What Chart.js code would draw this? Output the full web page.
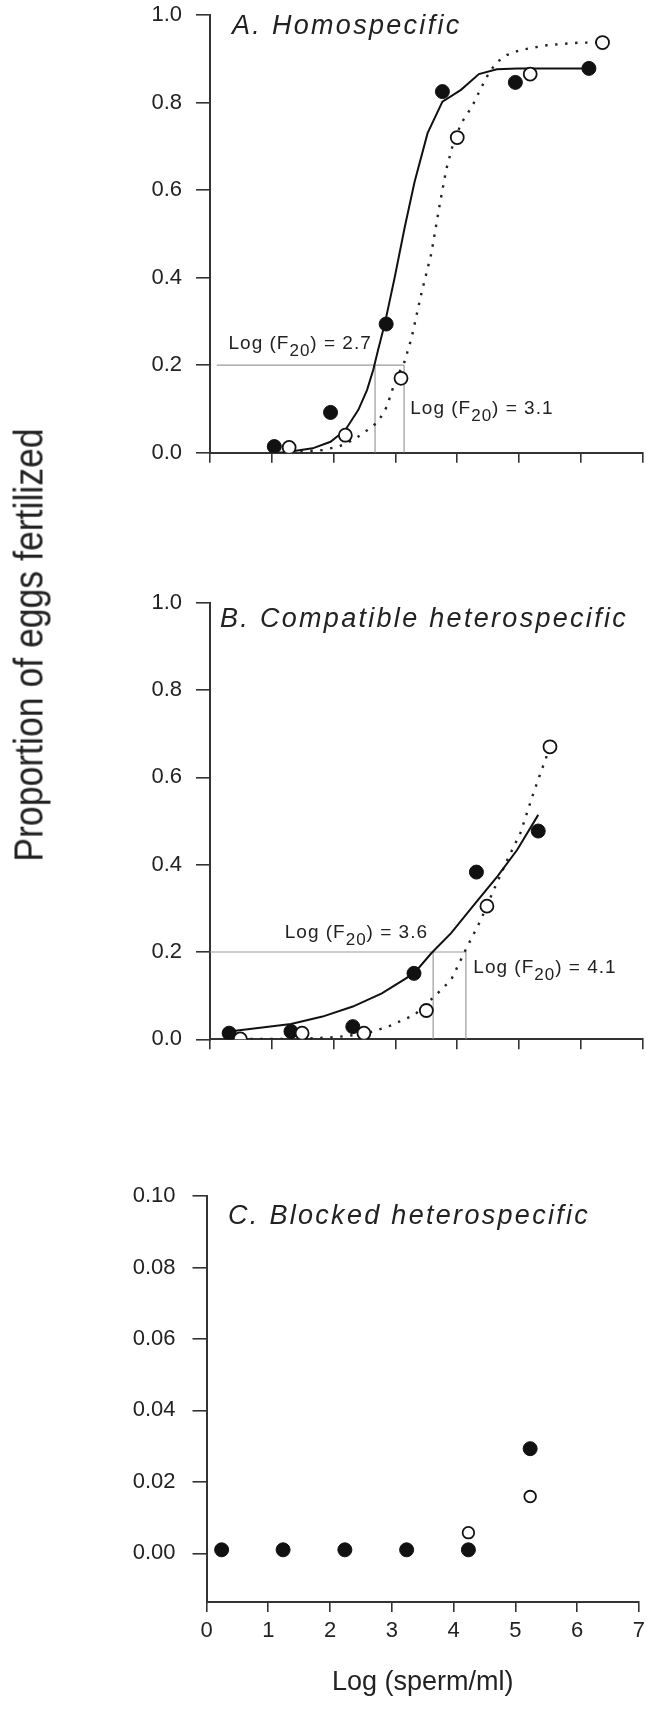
<!DOCTYPE html>
<html>
<head>
<meta charset="utf-8">
<script src="https://cdn.jsdelivr.net/npm/chart.js@4"></script>
<style>
  body { margin: 0; background: #fff; }
  #page { position: relative; width: 651px; height: 1735px; overflow: hidden; }
  canvas { position: absolute; left: 0; }
  #ytitle {
    position: absolute; left: 29px; top: 645px;
    transform: translate(-50%, -50%) rotate(-90deg) scaleX(0.89);
    font: 40px "Liberation Sans", Arial, sans-serif; color: #222; white-space: nowrap;
  }
</style>
</head>
<body>
<div id="page">
  <canvas id="panelA" width="651" height="520" style="top:-20px"></canvas>
  <canvas id="panelB" width="651" height="500" style="top:570px"></canvas>
  <canvas id="panelC" width="651" height="585" style="top:1150px"></canvas>
  <div id="ytitle">Proportion of eggs fertilized</div>
</div>
<script>
const xTickValues = [0, 1, 2, 3, 4, 5, 6, 7];
const yTicksAB = [0, 0.2, 0.4, 0.6, 0.8, 1.0];
const yTicksC = [0, 0.02, 0.04, 0.06, 0.08, 0.10];

// A. Homospecific
const aFilledX = [1.04, 1.95, 2.85, 3.76, 4.94, 6.13];
const aFilledY = [0.014, 0.092, 0.294, 0.825, 0.846, 0.878];
const aOpenX = [1.28, 2.19, 3.09, 4.00, 5.18, 6.35];
const aOpenY = [0.012, 0.040, 0.170, 0.720, 0.865, 0.937];
const aSolidX = [1.12, 1.28, 1.66, 1.95, 2.19, 2.40, 2.54, 2.64, 2.72, 2.83, 2.99, 3.15, 3.31, 3.52, 3.76, 4.06, 4.35, 4.64, 4.97, 6.14];
const aSolidY = [0.000, 0.002, 0.010, 0.025, 0.052, 0.098, 0.143, 0.189, 0.235, 0.296, 0.402, 0.515, 0.619, 0.730, 0.802, 0.829, 0.865, 0.876, 0.878, 0.878];
const aDotX = [1.30, 1.82, 2.08, 2.32, 2.59, 2.72, 2.86, 3.02, 3.13, 3.26, 3.42, 3.58, 3.71, 3.82, 3.92, 4.06, 4.24, 4.38, 4.48, 4.62, 4.81, 5.02, 5.45, 5.98, 6.35];
const aDotY = [0.001, 0.006, 0.014, 0.029, 0.056, 0.071, 0.105, 0.174, 0.200, 0.262, 0.364, 0.455, 0.562, 0.646, 0.699, 0.752, 0.791, 0.832, 0.859, 0.890, 0.909, 0.920, 0.931, 0.937, 0.937];
const aF20 = [2.67, 3.14];
const aRefStart = 0.11;
const aLabels = ['2.7', '3.1'];
const aLabelX = [0.30, 3.24];
const aLabelY = [0.237, 0.088];

// B. Compatible heterospecific
const bFilledX = [0.31, 1.31, 2.31, 3.30, 4.31, 5.31];
const bFilledY = [0.014, 0.018, 0.029, 0.151, 0.383, 0.477];
const bOpenX = [0.49, 1.49, 2.49, 3.50, 4.48, 5.50];
const bOpenY = [0.001, 0.014, 0.014, 0.066, 0.305, 0.670];
const bSolidX = [0.31, 1.31, 1.82, 2.31, 2.78, 3.30, 3.58, 3.90, 4.31, 4.65, 4.97, 5.31];
const bSolidY = [0.018, 0.035, 0.052, 0.075, 0.105, 0.151, 0.197, 0.243, 0.315, 0.373, 0.434, 0.514];
const bDotX = [0.49, 1.49, 2.03, 2.49, 2.88, 3.31, 3.63, 3.90, 4.16, 4.38, 4.59, 4.81, 5.02, 5.23, 5.50];
const bDotY = [0.001, 0.001, 0.005, 0.012, 0.029, 0.056, 0.098, 0.136, 0.212, 0.273, 0.342, 0.411, 0.472, 0.563, 0.670];
const bF20 = [3.61, 4.14];
const bRefStart = 0;
const bLabels = ['3.6', '4.1'];
const bLabelX = [1.21, 4.26];
const bLabelY = [0.231, 0.153];

// C. Blocked heterospecific
const cFilledX = [0.245, 1.24, 2.24, 3.24, 4.24, 5.24];
const cFilledY = [0.001, 0.001, 0.001, 0.001, 0.001, 0.0293];
const cOpenX = [4.24, 5.24];
const cOpenY = [0.0058, 0.0159];

const FONT = '"Liberation Sans", Arial, Helvetica, sans-serif';
const INK = '#222';
const AXIS = '#333';

const zip = (xs, ys) => xs.map((x, i) => ({ x: x, y: ys[i] }));

const filledSet = (xs, ys) => ({
  data: zip(xs, ys), pointRadius: 7, pointBackgroundColor: '#111',
  pointBorderColor: '#111', pointBorderWidth: 1, showLine: false,
});
const openSet = (xs, ys, r) => ({
  data: zip(xs, ys), pointRadius: r || 6.5, pointBackgroundColor: '#fff',
  pointBorderColor: '#111', pointBorderWidth: 1.8, showLine: false,
});
const solidSet = (xs, ys) => ({
  data: zip(xs, ys), showLine: true, pointRadius: 0, borderColor: '#111',
  borderWidth: 2, tension: 0,
});
const dotSet = (xs, ys) => ({
  data: zip(xs, ys), showLine: true, pointRadius: 0, borderColor: '#222',
  borderWidth: 2.4, borderDash: [2.4, 7.6], tension: 0,
});
const refSets = (f20, start) => [
  [[start, 0.2], [f20[1], 0.2]],
  [[f20[0], 0], [f20[0], 0.2]],
  [[f20[1], 0], [f20[1], 0.2]],
].map(seg => ({
  data: seg.map(p => ({ x: p[0], y: p[1] })), showLine: true, pointRadius: 0,
  borderColor: '#9a9a9a', borderWidth: 1.2,
}));

// panel title and Log (F20) annotations
const panelText = {
  id: 'panelText',
  afterDatasetsDraw(chart, args, opts) {
    const ctx = chart.ctx;
    const area = chart.chartArea;
    const xs = chart.scales.x, ys = chart.scales.y;
    ctx.save();
    ctx.fillStyle = INK;
    ctx.textBaseline = 'alphabetic';
    ctx.textAlign = 'left';
    ctx.letterSpacing = '2.3px';
    ctx.font = 'italic 27px ' + FONT;
    ctx.fillText(opts.title, area.left + opts.titleDx, area.top + opts.titleDy);
    (opts.labels || []).forEach((val, i) => {
      const px = xs.getPixelForValue(opts.labelX[i]);
      const py = ys.getPixelForValue(opts.labelY[i]);
      ctx.letterSpacing = '1px';
      ctx.font = '19px ' + FONT;
      ctx.fillText('Log (F', px, py);
      let w = ctx.measureText('Log (F').width;
      ctx.font = '17px ' + FONT;
      ctx.fillText('20', px + w, py + 7);
      w += ctx.measureText('20').width;
      ctx.font = '19px ' + FONT;
      ctx.fillText(') = ' + val, px + w, py);
    });
    ctx.restore();
  }
};

function makePanel(id, p) {
  new Chart(document.getElementById(id), {
    type: 'scatter',
    data: { datasets: p.datasets },
    plugins: [panelText],
    options: {
      responsive: false,
      animation: false,
      layout: { padding: { top: p.padTop, right: p.padRight, left: 0, bottom: 0 } },
      plugins: {
        legend: { display: false },
        tooltip: { enabled: false },
        panelText: p.text,
      },
      scales: {
        x: {
          type: 'linear', min: 0, max: 7, position: 'bottom',
          afterBuildTicks: s => { s.ticks = xTickValues.map(v => ({ value: v })); },
          afterFit: s => { s.height = p.xHeight; },
          grid: { drawOnChartArea: false, drawTicks: true, tickLength: 10, color: AXIS, lineWidth: 1.6 },
          border: { display: true, color: AXIS, width: 2 },
          ticks: {
            display: p.xLabels, color: INK, padding: 6,
            font: { family: FONT, size: 22 },
            callback: v => String(v),
          },
          title: {
            display: p.xLabels, text: 'Log (sperm/ml)', color: INK,
            font: { family: FONT, size: 27 }, padding: { top: 0, bottom: 36 },
          },
        },
        y: {
          type: 'linear', min: p.yMin, max: p.yMax, position: 'left',
          afterBuildTicks: s => { s.ticks = p.yTicks.map(v => ({ value: v })); },
          afterFit: s => { s.width = p.yWidth; },
          grid: { drawOnChartArea: false, drawTicks: true, tickLength: 14, color: AXIS, lineWidth: 1.6 },
          border: { display: true, color: AXIS, width: 2 },
          ticks: {
            color: INK, padding: p.yPad,
            font: { family: FONT, size: 22 },
            callback: v => Number(v).toFixed(p.decimals),
          },
        },
      },
    },
  });
}

makePanel('panelA', {
  padTop: 35, padRight: 4.3, xHeight: 47.3, yWidth: 210, yPad: 14,
  yMin: 0, yMax: 1, yTicks: yTicksAB, decimals: 1, xLabels: false,
  datasets: [
    openSet(aOpenX, aOpenY), filledSet(aFilledX, aFilledY),
    solidSet(aSolidX, aSolidY), dotSet(aDotX, aDotY),
    ...refSets(aF20, aRefStart),
  ],
  text: { title: 'A. Homospecific', titleDx: 22, titleDy: 19,
          labels: aLabels, labelX: aLabelX, labelY: aLabelY },
});

makePanel('panelB', {
  padTop: 32.7, padRight: 4.3, xHeight: 30.7, yWidth: 210, yPad: 14,
  yMin: 0, yMax: 1, yTicks: yTicksAB, decimals: 1, xLabels: false,
  datasets: [
    openSet(bOpenX, bOpenY), filledSet(bFilledX, bFilledY),
    solidSet(bSolidX, bSolidY), dotSet(bDotX, bDotY),
    ...refSets(bF20, bRefStart),
  ],
  text: { title: 'B. Compatible heterospecific', titleDx: 10, titleDy: 24,
          labels: bLabels, labelX: bLabelX, labelY: bLabelY },
});

makePanel('panelC', {
  padTop: 46, padRight: 7.7, xHeight: 133, yWidth: 206.5, yPad: 17,
  yMin: -0.0136, yMax: 0.10, yTicks: yTicksC, decimals: 2, xLabels: true,
  datasets: [
    openSet(cOpenX, cOpenY, 5.8), filledSet(cFilledX, cFilledY),
  ],
  text: { title: 'C. Blocked heterospecific', titleDx: 21.5, titleDy: 28 },
});
</script>
</body>
</html>
